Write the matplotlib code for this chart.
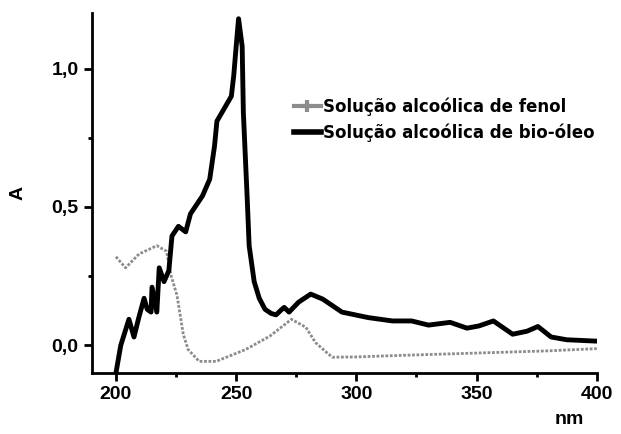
import matplotlib.pyplot as plt
from matplotlib.lines import Line2D
from matplotlib.ticker import FuncFormatter, MultipleLocator

plt.rcParams['font.family'] = ['Liberation Sans', 'DejaVu Sans']
plt.rcParams['font.weight'] = 'bold'

# bio-oil solution (black)
bio_nm = [200, 202, 205.4, 207.5, 209.5, 211.7, 213, 214.6, 215, 217, 218, 220, 222, 223.3,
          226, 229, 231, 236, 239, 241, 242, 246, 248, 249, 250, 251, 252.5, 253, 254.6,
          255.4, 257.5, 259.6, 262, 264.6, 266.6, 269, 270, 272, 276, 281, 286, 294, 305,
          315, 323, 330, 339, 346, 351, 357, 365, 371, 375.5, 381, 387.5, 400]
bio_A = [-0.10, 0.0, 0.094, 0.03, 0.10, 0.17, 0.13, 0.12, 0.21, 0.12, 0.28, 0.23, 0.27, 0.395,
         0.43, 0.41, 0.475, 0.54, 0.60, 0.72, 0.81, 0.87, 0.90, 0.975, 1.08, 1.18, 1.08, 0.84, 0.53,
         0.36, 0.23, 0.17, 0.13, 0.115, 0.11, 0.13, 0.137, 0.12, 0.156, 0.185, 0.167, 0.12, 0.10,
         0.088, 0.088, 0.073, 0.083, 0.062, 0.07, 0.088, 0.04, 0.051, 0.068, 0.03, 0.02, 0.015]

# phenol solution (gray)
fen_nm = [200, 204, 209.6, 217, 221, 223, 225.4, 228, 230, 234.6, 241.7, 254, 264, 273,
          279, 283, 287.5, 290, 300, 320, 350, 380, 400]
fen_A = [0.32, 0.28, 0.33, 0.36, 0.34, 0.25, 0.18, 0.04, -0.015, -0.058, -0.058, -0.015, 0.033,
         0.094, 0.065, 0.01, -0.025, -0.043, -0.042, -0.036, -0.028, -0.02, -0.012]

fig = plt.figure(figsize=(6.21, 4.34), dpi=100)
ax = fig.add_axes([0.148, 0.1406, 0.813, 0.829])

ax.plot(fen_nm, fen_A, color='#8c8c8c', lw=2, linestyle=(0, (1, 0.6)))
ax.plot(bio_nm, bio_A, color='black', lw=3.5, solid_joinstyle='round')

ax.set_xlim(190, 400)
ax.set_ylim(-0.1, 1.2)
ax.xaxis.set_major_locator(MultipleLocator(50))
ax.xaxis.set_minor_locator(MultipleLocator(25))
ax.yaxis.set_major_locator(MultipleLocator(0.5))
ax.yaxis.set_minor_locator(MultipleLocator(0.25))
ax.yaxis.set_major_formatter(FuncFormatter(lambda v, p: ('%.1f' % v).replace('.', ',')))

for s in ['top', 'right']:
    ax.spines[s].set_visible(False)
for s in ['left', 'bottom']:
    ax.spines[s].set_linewidth(2)
ax.tick_params(which='major', length=6, width=2, labelsize=14, direction='out')
ax.tick_params(which='minor', length=3, width=2, direction='out')

ax.text(-0.147, 0.5, 'A', transform=ax.transAxes, rotation=90, fontsize=14,
        fontweight='bold', ha='center', va='center')
ax.text(0.946, -0.13, 'nm', transform=ax.transAxes, fontsize=14,
        fontweight='bold', ha='center', va='center')

handles = [Line2D([], [], color='#8c8c8c', lw=3, marker='+', ms=8, mew=3),
           Line2D([], [], color='black', lw=4)]
ax.legend(handles, ['Solução alcoólica de fenol', 'Solução alcoólica de bio-óleo'],
          loc='upper left', bbox_to_anchor=(0.384, 0.79), frameon=False,
          handlelength=1.6, handletextpad=0.15, borderpad=0, labelspacing=0.45,
          prop={'family': 'DejaVu Sans', 'weight': 'bold', 'size': 12})

fig.savefig('out.png', dpi=100)
